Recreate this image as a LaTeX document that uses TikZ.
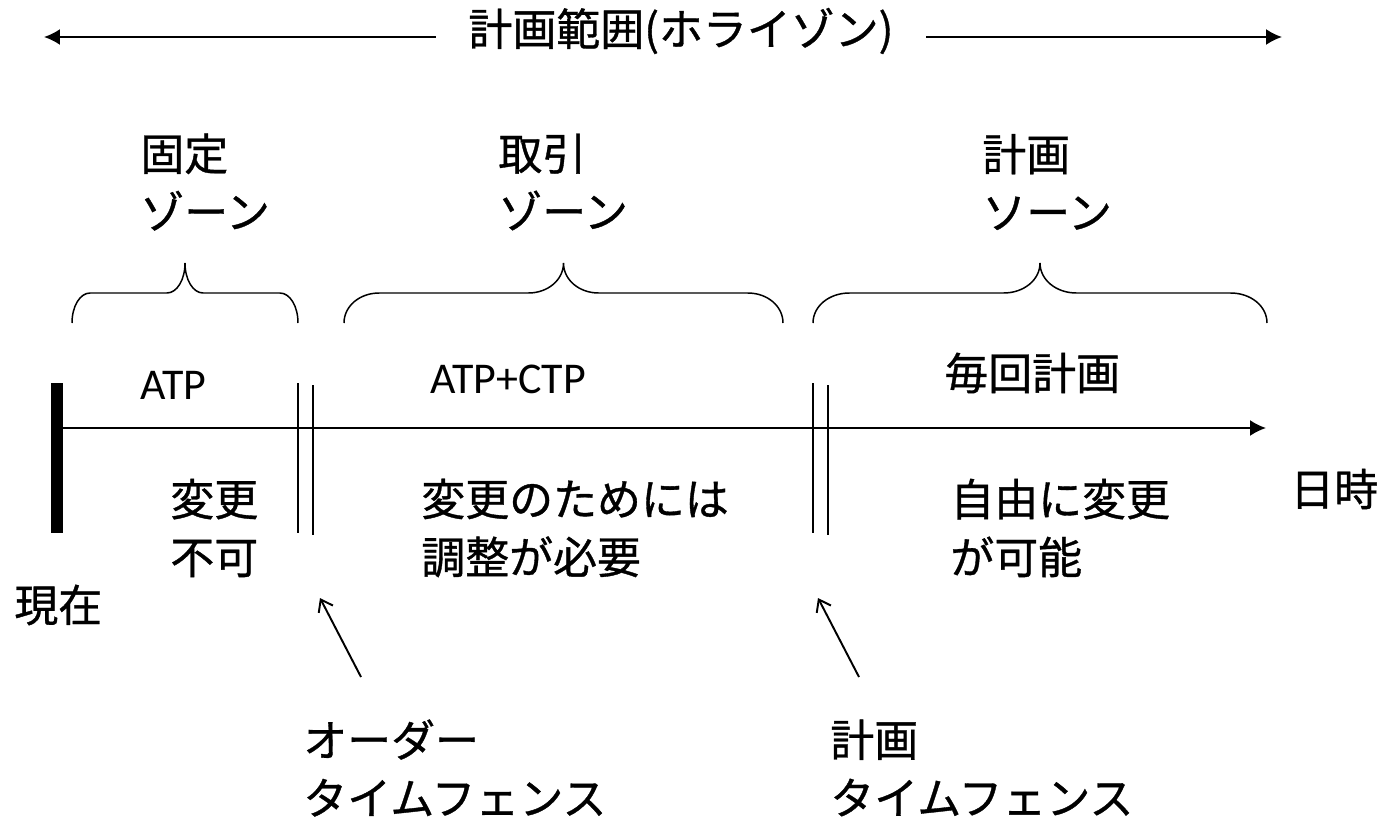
\documentclass[tikz,border=0pt]{standalone}
\usepackage{fontspec}
\setmainfont{Carlito}
\newfontfamily\jp[FakeBold=0.8]{Noto Sans CJK JP}
\usetikzlibrary{arrows.meta}

\begin{document}
\begin{tikzpicture}[x=0.02cm,y=-0.02cm,
  lbl/.style={anchor=west,inner sep=0pt,align=left,font=\jp\fontsize{25}{33}\selectfont},
  latin/.style={anchor=west,inner sep=0pt,font=\fontsize{25}{30}\selectfont},
  axis/.style={line width=1.1pt,-{Latex[length=0.32cm,width=0.32cm]}},
  fence/.style={line width=0.75pt},
  zonebrace/.style={line width=0.85pt},
  pointer/.style={line width=1.1pt,-{Straight Barb[length=0.22cm,width=0.32cm]}}]
\useasboundingbox (0,0) rectangle (1383,818);
% horizon
\node[lbl,anchor=center,inner xsep=0.65cm] (horizon) at (681,31) {計画範囲(ホライゾン)};
\coordinate (hzL) at (44,37);
\coordinate (hzR) at (1282,37);
\draw[axis] (horizon.west |- hzL) -- (hzL);
\draw[axis] (horizon.east |- hzR) -- (hzR);
% zones
\node[lbl] (fixzone) at (140,182) {固定\\ゾーン};
\node[lbl] (tradezone) at (498,182) {取引\\ゾーン};
\node[lbl] (planzone) at (982,182) {計画\\ソーン};
\foreach \a/\b in {72/298,344/783,813/1267}
{ \pgfmathsetmacro\m{(\a+\b)/2}
  \pgfmathsetmacro\r{0.08*(\b-\a)}
  \draw[zonebrace] (\a,323) .. controls (\a,306) and ({\a+0.45*\r},293) .. ({\a+\r},293)
    -- ({\m-\r},293) .. controls ({\m-0.45*\r},293) and (\m,280) .. (\m,263)
    .. controls (\m,280) and ({\m+0.45*\r},293) .. ({\m+\r},293)
    -- ({\b-\r},293) .. controls ({\b-0.45*\r},293) and (\b,306) .. (\b,323);}
% time axis
\coordinate (now) at (57,428);
\coordinate (tend) at (1266,428);
\draw[line width=6.3pt] (57,383) -- (57,533);
\draw[axis] (now) -- (tend);
\foreach \fx in {298,813}
{ \draw[fence] (\fx,383) -- (\fx,533);
  \draw[fence] ({\fx+15},385) -- ({\fx+15},535);}
\node[latin] (atp) at (140,385) {ATP};
\node[latin] (atpctp) at (430,379) {ATP+CTP};
\node[lbl] (everyplan) at (944,373) {毎回計画};
\node[lbl] (nochange) at (170,528) {変更\\不可};
\node[lbl] (adjust) at (421,528) {変更のためには\\調整が必要};
\node[lbl] (free) at (950,528) {自由に変更\\が可能};
\node[lbl] (datetime) at (1290,489) {日時};
\node[lbl] (current) at (14,605) {現在};
% time fences
\node[lbl] (orderfence) at (303,768) {オーダー\\タイムフェンス};
\node[lbl] (planfence) at (830,768) {計画\\タイムフェンス};
\coordinate (ordtip) at (320,598);
\coordinate (ordtail) at (361,677);
\coordinate (plntip) at (818,598);
\coordinate (plntail) at (859,677);
\draw[pointer] (ordtail) -- (ordtip);
\draw[pointer] (plntail) -- (plntip);
\end{tikzpicture}
\end{document}
